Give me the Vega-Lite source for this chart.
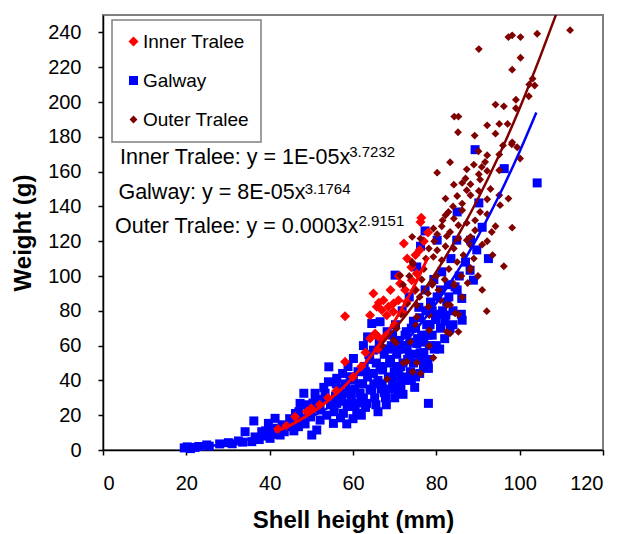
{
"$schema": "https://vega.github.io/schema/vega-lite/v6.json",
"width": 500, "height": 435,
"autosize": {"type": "none"},
"padding": {"left": 103, "top": 15, "right": 19, "bottom": 84},
"background": "white",
"config": {
 "font": "Liberation Sans",
 "view": {"stroke": "#808080", "strokeWidth": 2},
 "axis": {"grid": false, "domainColor": "black", "domainWidth": 1.5, "tickColor": "black", "tickWidth": 1.5, "tickSize": 5, "labelFont": "Liberation Sans", "labelFontSize": 20, "labelColor": "black", "labelOverlap": false, "titleFont": "Liberation Sans", "titleFontSize": 24, "titleFontWeight": "bold", "titleColor": "black"},
 "legend": {"orient": "none", "legendX": 9, "legendY": 5, "strokeColor": "#808080", "strokeWidth": 1.5, "fillColor": "white", "padding": 12, "labelFont": "Liberation Sans", "labelFontSize": 19, "labelColor": "black", "rowPadding": 19, "symbolOffset": 0, "labelOffset": 0}
},
"datasets": {
 "pts": [
{"s":"Galway","x":19.5,"y":1.2},{"s":"Galway","x":20.2,"y":1.8},{"s":"Galway","x":21,"y":0.8},{"s":"Galway","x":22.1,"y":1.5},{"s":"Galway","x":23,"y":2},{"s":"Galway","x":24.9,"y":2.9},{"s":"Galway","x":25.5,"y":2.2},{"s":"Galway","x":28,"y":3.5},{"s":"Galway","x":30.1,"y":4.2},{"s":"Galway","x":31,"y":3.6},{"s":"Galway","x":32.5,"y":5.2},{"s":"Galway","x":33.5,"y":4.5},{"s":"Galway","x":34.1,"y":10.5},{"s":"Galway","x":35.7,"y":4.8},{"s":"Galway","x":36.2,"y":16.7},{"s":"Galway","x":36.5,"y":7.5},{"s":"Galway","x":37.5,"y":6},{"s":"Galway","x":38.1,"y":10.5},{"s":"Galway","x":38.8,"y":8},{"s":"Galway","x":39,"y":11},{"s":"Galway","x":39.7,"y":15.3},{"s":"Galway","x":40.1,"y":6.7},{"s":"Galway","x":40.5,"y":11},{"s":"Galway","x":41,"y":9},{"s":"Galway","x":41.3,"y":18.2},{"s":"Galway","x":41.8,"y":12.5},{"s":"Galway","x":42.5,"y":8.6},{"s":"Galway","x":43,"y":14.5},{"s":"Galway","x":43,"y":12},{"s":"Galway","x":43.5,"y":10.5},{"s":"Galway","x":44.1,"y":13.4},{"s":"Galway","x":44.8,"y":18},{"s":"Galway","x":45,"y":14},{"s":"Galway","x":45.3,"y":16.3},{"s":"Galway","x":45.8,"y":11},{"s":"Galway","x":46.2,"y":21},{"s":"Galway","x":46.9,"y":13.4},{"s":"Galway","x":47,"y":22},{"s":"Galway","x":47.3,"y":26.8},{"s":"Galway","x":47.5,"y":18},{"s":"Galway","x":48.2,"y":32.6},{"s":"Galway","x":48.5,"y":15},{"s":"Galway","x":49,"y":26},{"s":"Galway","x":49.3,"y":22},{"s":"Galway","x":49.8,"y":19},{"s":"Galway","x":50.1,"y":8.6},{"s":"Galway","x":50.4,"y":27},{"s":"Galway","x":50.9,"y":32.6},{"s":"Galway","x":51,"y":28},{"s":"Galway","x":51.3,"y":11.5},{"s":"Galway","x":51.6,"y":24},{"s":"Galway","x":52.1,"y":17.2},{"s":"Galway","x":52.1,"y":23},{"s":"Galway","x":52.6,"y":29},{"s":"Galway","x":53,"y":36},{"s":"Galway","x":53.3,"y":32.6},{"s":"Galway","x":53.7,"y":20},{"s":"Galway","x":54.1,"y":39.2},{"s":"Galway","x":54.2,"y":47.8},{"s":"Galway","x":54.6,"y":26},{"s":"Galway","x":55.3,"y":15.3},{"s":"Galway","x":55.5,"y":22},{"s":"Galway","x":55.8,"y":31},{"s":"Galway","x":56,"y":38},{"s":"Galway","x":56.1,"y":26.8},{"s":"Galway","x":56.1,"y":41.2},{"s":"Galway","x":56.5,"y":35},{"s":"Galway","x":57,"y":18.5},{"s":"Galway","x":57.3,"y":28},{"s":"Galway","x":57.5,"y":44},{"s":"Galway","x":57.7,"y":21.1},{"s":"Galway","x":57.7,"y":32.6},{"s":"Galway","x":58.2,"y":38},{"s":"Galway","x":58.5,"y":15},{"s":"Galway","x":58.6,"y":25},{"s":"Galway","x":58.8,"y":48},{"s":"Galway","x":59,"y":34},{"s":"Galway","x":59.3,"y":26.8},{"s":"Galway","x":59.3,"y":42.1},{"s":"Galway","x":59.6,"y":31},{"s":"Galway","x":60,"y":18},{"s":"Galway","x":60.1,"y":40.2},{"s":"Galway","x":60.1,"y":52.6},{"s":"Galway","x":60.4,"y":35},{"s":"Galway","x":60.5,"y":25},{"s":"Galway","x":60.9,"y":21.1},{"s":"Galway","x":61,"y":27},{"s":"Galway","x":61.2,"y":45},{"s":"Galway","x":61.5,"y":38},{"s":"Galway","x":61.7,"y":32.6},{"s":"Galway","x":62,"y":28},{"s":"Galway","x":62,"y":20},{"s":"Galway","x":62.3,"y":38},{"s":"Galway","x":62.5,"y":60},{"s":"Galway","x":62.5,"y":30},{"s":"Galway","x":62.7,"y":48},{"s":"Galway","x":63,"y":24.5},{"s":"Galway","x":63,"y":45},{"s":"Galway","x":63.3,"y":26.8},{"s":"Galway","x":63.5,"y":42},{"s":"Galway","x":63.5,"y":65},{"s":"Galway","x":63.8,"y":55},{"s":"Galway","x":64,"y":52},{"s":"Galway","x":64.1,"y":35},{"s":"Galway","x":64.5,"y":34.4},{"s":"Galway","x":64.5,"y":72.7},{"s":"Galway","x":64.9,"y":44},{"s":"Galway","x":64.9,"y":57.4},{"s":"Galway","x":65,"y":38},{"s":"Galway","x":65.2,"y":30},{"s":"Galway","x":65.5,"y":26},{"s":"Galway","x":65.6,"y":50},{"s":"Galway","x":66,"y":40},{"s":"Galway","x":66,"y":22},{"s":"Galway","x":66.3,"y":62},{"s":"Galway","x":66.5,"y":73.7},{"s":"Galway","x":66.5,"y":48},{"s":"Galway","x":66.8,"y":35},{"s":"Galway","x":67,"y":38},{"s":"Galway","x":67,"y":58},{"s":"Galway","x":67.1,"y":46},{"s":"Galway","x":67.5,"y":55},{"s":"Galway","x":67.5,"y":33},{"s":"Galway","x":67.8,"y":30},{"s":"Galway","x":68,"y":26},{"s":"Galway","x":68.2,"y":68},{"s":"Galway","x":68.5,"y":42},{"s":"Galway","x":68.5,"y":58},{"s":"Galway","x":68.8,"y":50},{"s":"Galway","x":69,"y":52},{"s":"Galway","x":69,"y":35},{"s":"Galway","x":69.2,"y":60},{"s":"Galway","x":69.5,"y":38},{"s":"Galway","x":69.5,"y":66},{"s":"Galway","x":69.9,"y":45},{"s":"Galway","x":70,"y":30},{"s":"Galway","x":70,"y":40},{"s":"Galway","x":70.1,"y":100.5},{"s":"Galway","x":70.2,"y":72},{"s":"Galway","x":70.5,"y":55},{"s":"Galway","x":70.5,"y":48},{"s":"Galway","x":70.8,"y":33},{"s":"Galway","x":71,"y":44},{"s":"Galway","x":71,"y":58},{"s":"Galway","x":71.1,"y":63},{"s":"Galway","x":71.5,"y":48},{"s":"Galway","x":71.5,"y":36},{"s":"Galway","x":71.8,"y":80},{"s":"Galway","x":72,"y":32},{"s":"Galway","x":72,"y":50},{"s":"Galway","x":72.1,"y":40},{"s":"Galway","x":72.4,"y":58},{"s":"Galway","x":72.5,"y":66},{"s":"Galway","x":72.8,"y":68},{"s":"Galway","x":73,"y":60},{"s":"Galway","x":73,"y":42},{"s":"Galway","x":73.1,"y":52},{"s":"Galway","x":73.5,"y":88},{"s":"Galway","x":73.5,"y":55},{"s":"Galway","x":73.8,"y":45},{"s":"Galway","x":74,"y":40},{"s":"Galway","x":74,"y":70},{"s":"Galway","x":74.1,"y":62},{"s":"Galway","x":74.5,"y":74},{"s":"Galway","x":74.5,"y":50},{"s":"Galway","x":74.8,"y":36},{"s":"Galway","x":75,"y":70},{"s":"Galway","x":75,"y":42},{"s":"Galway","x":75.1,"y":55},{"s":"Galway","x":75.3,"y":61.2},{"s":"Galway","x":75.3,"y":105.2},{"s":"Galway","x":75.5,"y":64},{"s":"Galway","x":75.8,"y":82},{"s":"Galway","x":76,"y":44},{"s":"Galway","x":76,"y":76},{"s":"Galway","x":76.1,"y":55.9},{"s":"Galway","x":76.2,"y":117.1},{"s":"Galway","x":76.5,"y":66},{"s":"Galway","x":76.5,"y":52},{"s":"Galway","x":76.9,"y":48},{"s":"Galway","x":77,"y":62},{"s":"Galway","x":77,"y":56},{"s":"Galway","x":77.3,"y":125.9},{"s":"Galway","x":77.3,"y":92},{"s":"Galway","x":77.5,"y":80},{"s":"Galway","x":77.7,"y":72},{"s":"Galway","x":78,"y":52},{"s":"Galway","x":78,"y":66},{"s":"Galway","x":78.1,"y":26.8},{"s":"Galway","x":78.1,"y":46.9},{"s":"Galway","x":78.3,"y":60},{"s":"Galway","x":78.5,"y":72},{"s":"Galway","x":78.6,"y":85},{"s":"Galway","x":79,"y":66},{"s":"Galway","x":79,"y":80},{"s":"Galway","x":79.4,"y":98},{"s":"Galway","x":79.5,"y":58},{"s":"Galway","x":79.8,"y":75},{"s":"Galway","x":80,"y":60},{"s":"Galway","x":80.2,"y":120.6},{"s":"Galway","x":80.2,"y":88},{"s":"Galway","x":80.5,"y":78},{"s":"Galway","x":80.8,"y":58},{"s":"Galway","x":81,"y":70},{"s":"Galway","x":81,"y":92},{"s":"Galway","x":81.3,"y":102.4},{"s":"Galway","x":81.5,"y":80},{"s":"Galway","x":82,"y":64},{"s":"Galway","x":82,"y":74},{"s":"Galway","x":82.3,"y":77.5},{"s":"Galway","x":82.5,"y":85.1},{"s":"Galway","x":82.9,"y":95},{"s":"Galway","x":83,"y":88},{"s":"Galway","x":83.3,"y":69.9},{"s":"Galway","x":83.5,"y":110},{"s":"Galway","x":84,"y":72},{"s":"Galway","x":84,"y":80},{"s":"Galway","x":84.5,"y":93.8},{"s":"Galway","x":84.9,"y":120.6},{"s":"Galway","x":85,"y":136.8},{"s":"Galway","x":85,"y":92},{"s":"Galway","x":85.5,"y":100},{"s":"Galway","x":86,"y":78},{"s":"Galway","x":86.1,"y":87.1},{"s":"Galway","x":86.2,"y":74.6},{"s":"Galway","x":87,"y":108},{"s":"Galway","x":88.1,"y":103.3},{"s":"Galway","x":88.2,"y":120.6},{"s":"Galway","x":88.9,"y":97.6},{"s":"Galway","x":89.3,"y":172.6},{"s":"Galway","x":89.7,"y":115},{"s":"Galway","x":90.2,"y":142},{"s":"Galway","x":91,"y":128},{"s":"Galway","x":92.5,"y":110},{"s":"Galway","x":96.3,"y":161.7},{"s":"Galway","x":104.2,"y":153.5},
{"s":"Inner Tralee","x":42,"y":12},{"s":"Inner Tralee","x":44,"y":14},{"s":"Inner Tralee","x":46.1,"y":19.1},{"s":"Inner Tralee","x":48.9,"y":22},{"s":"Inner Tralee","x":50,"y":24},{"s":"Inner Tralee","x":52,"y":26},{"s":"Inner Tralee","x":54,"y":30},{"s":"Inner Tralee","x":56,"y":34},{"s":"Inner Tralee","x":58.1,"y":50.7},{"s":"Inner Tralee","x":58.1,"y":76.9},{"s":"Inner Tralee","x":60,"y":42},{"s":"Inner Tralee","x":62,"y":48},{"s":"Inner Tralee","x":63,"y":56},{"s":"Inner Tralee","x":64.1,"y":64.1},{"s":"Inner Tralee","x":64.1,"y":77.5},{"s":"Inner Tralee","x":64.9,"y":90},{"s":"Inner Tralee","x":65.3,"y":67},{"s":"Inner Tralee","x":65.7,"y":82.3},{"s":"Inner Tralee","x":66,"y":58},{"s":"Inner Tralee","x":66.1,"y":65},{"s":"Inner Tralee","x":66.2,"y":84.6},{"s":"Inner Tralee","x":66.9,"y":80.4},{"s":"Inner Tralee","x":67.3,"y":86.1},{"s":"Inner Tralee","x":68,"y":66},{"s":"Inner Tralee","x":68.1,"y":77.5},{"s":"Inner Tralee","x":68.5,"y":82.3},{"s":"Inner Tralee","x":69,"y":92},{"s":"Inner Tralee","x":69.7,"y":79.4},{"s":"Inner Tralee","x":69.7,"y":84.2},{"s":"Inner Tralee","x":70,"y":72},{"s":"Inner Tralee","x":70.9,"y":86.1},{"s":"Inner Tralee","x":71,"y":100},{"s":"Inner Tralee","x":71.3,"y":95.7},{"s":"Inner Tralee","x":72.1,"y":78.5},{"s":"Inner Tralee","x":72.2,"y":118.7},{"s":"Inner Tralee","x":72.5,"y":91.9},{"s":"Inner Tralee","x":72.9,"y":85.2},{"s":"Inner Tralee","x":73,"y":110},{"s":"Inner Tralee","x":74,"y":105},{"s":"Inner Tralee","x":74.1,"y":97.6},{"s":"Inner Tralee","x":74.9,"y":91.9},{"s":"Inner Tralee","x":75,"y":112},{"s":"Inner Tralee","x":75.3,"y":101.4},{"s":"Inner Tralee","x":76,"y":115},{"s":"Inner Tralee","x":76.2,"y":131},{"s":"Inner Tralee","x":76.4,"y":133.5},{"s":"Inner Tralee","x":77,"y":120},{"s":"Inner Tralee","x":78,"y":125},
{"s":"Outer Tralee","x":112.1,"y":241.3},{"s":"Outer Tralee","x":104.2,"y":239.2},{"s":"Outer Tralee","x":100.2,"y":237.3},{"s":"Outer Tralee","x":98.2,"y":238.3},{"s":"Outer Tralee","x":97.3,"y":237.3},{"s":"Outer Tralee","x":90.2,"y":230.4},{"s":"Outer Tralee","x":100.2,"y":225.4},{"s":"Outer Tralee","x":98.2,"y":218.6},{"s":"Outer Tralee","x":103.1,"y":213.4},{"s":"Outer Tralee","x":102.3,"y":210.1},{"s":"Outer Tralee","x":103.6,"y":209.5},{"s":"Outer Tralee","x":102.2,"y":203.3},{"s":"Outer Tralee","x":99.1,"y":201.3},{"s":"Outer Tralee","x":94.2,"y":198.5},{"s":"Outer Tralee","x":96.2,"y":197.5},{"s":"Outer Tralee","x":99.1,"y":196.4},{"s":"Outer Tralee","x":84.3,"y":191.6},{"s":"Outer Tralee","x":85.3,"y":191.6},{"s":"Outer Tralee","x":92.2,"y":186.6},{"s":"Outer Tralee","x":95.1,"y":187.4},{"s":"Outer Tralee","x":97.1,"y":187.4},{"s":"Outer Tralee","x":85.2,"y":182.6},{"s":"Outer Tralee","x":89.2,"y":180.7},{"s":"Outer Tralee","x":94.2,"y":181.8},{"s":"Outer Tralee","x":98.2,"y":176.8},{"s":"Outer Tralee","x":90.1,"y":171.7},{"s":"Outer Tralee","x":92.2,"y":169.4},{"s":"Outer Tralee","x":95.1,"y":169.8},{"s":"Outer Tralee","x":98.1,"y":175.7},{"s":"Outer Tralee","x":100.1,"y":167.5},{"s":"Outer Tralee","x":83.3,"y":165.4},{"s":"Outer Tralee","x":91.7,"y":165.5},{"s":"Outer Tralee","x":90.9,"y":162.7},{"s":"Outer Tralee","x":92.2,"y":160.4},{"s":"Outer Tralee","x":80.2,"y":159.4},{"s":"Outer Tralee","x":87.3,"y":161.3},{"s":"Outer Tralee","x":90.2,"y":158.5},{"s":"Outer Tralee","x":95.1,"y":160.8},{"s":"Outer Tralee","x":90.5,"y":155.4},{"s":"Outer Tralee","x":86.2,"y":153.5},{"s":"Outer Tralee","x":84.2,"y":152.5},{"s":"Outer Tralee","x":88.2,"y":152.7},{"s":"Outer Tralee","x":87.3,"y":149.3},{"s":"Outer Tralee","x":90.2,"y":148.9},{"s":"Outer Tralee","x":88.2,"y":146.4},{"s":"Outer Tralee","x":82.2,"y":144.5},{"s":"Outer Tralee","x":92.2,"y":144.1},{"s":"Outer Tralee","x":95.1,"y":146.4},{"s":"Outer Tralee","x":97.3,"y":144.5},{"s":"Outer Tralee","x":86.2,"y":141.6},{"s":"Outer Tralee","x":95.3,"y":140.7},{"s":"Outer Tralee","x":90.5,"y":136.8},{"s":"Outer Tralee","x":86.2,"y":137.8},{"s":"Outer Tralee","x":82.9,"y":136.8},{"s":"Outer Tralee","x":82.2,"y":134.9},{"s":"Outer Tralee","x":84.2,"y":133},{"s":"Outer Tralee","x":85.3,"y":129.2},{"s":"Outer Tralee","x":87.3,"y":130.5},{"s":"Outer Tralee","x":89.3,"y":132},{"s":"Outer Tralee","x":92.2,"y":135.5},{"s":"Outer Tralee","x":94.2,"y":128.6},{"s":"Outer Tralee","x":98.2,"y":127.8},{"s":"Outer Tralee","x":79.3,"y":127.3},{"s":"Outer Tralee","x":81.3,"y":128.6},{"s":"Outer Tralee","x":83.3,"y":125.3},{"s":"Outer Tralee","x":80.2,"y":124},{"s":"Outer Tralee","x":82.5,"y":122.9},{"s":"Outer Tralee","x":85.3,"y":121.5},{"s":"Outer Tralee","x":88.2,"y":122.5},{"s":"Outer Tralee","x":89.3,"y":126.3},{"s":"Outer Tralee","x":93.3,"y":125.3},{"s":"Outer Tralee","x":92.2,"y":120},{"s":"Outer Tralee","x":74.2,"y":122.5},{"s":"Outer Tralee","x":76.2,"y":121.5},{"s":"Outer Tralee","x":78.2,"y":115.8},{"s":"Outer Tralee","x":80.2,"y":114.8},{"s":"Outer Tralee","x":82.2,"y":117.1},{"s":"Outer Tralee","x":84.2,"y":115.8},{"s":"Outer Tralee","x":87.3,"y":120.6},{"s":"Outer Tralee","x":88.2,"y":117.7},{"s":"Outer Tralee","x":74.2,"y":108.1},{"s":"Outer Tralee","x":79.3,"y":111},{"s":"Outer Tralee","x":81.3,"y":109.1},{"s":"Outer Tralee","x":88.2,"y":104.7},{"s":"Outer Tralee","x":96.2,"y":105.6},{"s":"Outer Tralee","x":75.3,"y":83.3},{"s":"Outer Tralee","x":78.1,"y":82.3},{"s":"Outer Tralee","x":75.3,"y":76.5},{"s":"Outer Tralee","x":75.1,"y":71.8},{"s":"Outer Tralee","x":78.3,"y":77.5},{"s":"Outer Tralee","x":82.5,"y":83.3},{"s":"Outer Tralee","x":83.3,"y":83.3},{"s":"Outer Tralee","x":84.5,"y":78.5},{"s":"Outer Tralee","x":85.3,"y":78},{"s":"Outer Tralee","x":92.1,"y":79.8},{"s":"Outer Tralee","x":78.3,"y":68.9},{"s":"Outer Tralee","x":82.5,"y":67.9},{"s":"Outer Tralee","x":83.3,"y":67},{"s":"Outer Tralee","x":85.3,"y":67.9},{"s":"Outer Tralee","x":73.7,"y":62.2},{"s":"Outer Tralee","x":70.3,"y":61.6},{"s":"Outer Tralee","x":78.3,"y":59.9},{"s":"Outer Tralee","x":79.3,"y":53},{"s":"Outer Tralee","x":75.3,"y":50.1},{"s":"Outer Tralee","x":72.1,"y":50.1},{"s":"Outer Tralee","x":72.9,"y":50.7},{"s":"Outer Tralee","x":74.3,"y":45},{"s":"Outer Tralee","x":76.2,"y":44},{"s":"Outer Tralee","x":68.2,"y":40.8},{"s":"Outer Tralee","x":72,"y":95},{"s":"Outer Tralee","x":73.5,"y":100},{"s":"Outer Tralee","x":75,"y":92},{"s":"Outer Tralee","x":76.5,"y":98},{"s":"Outer Tralee","x":77,"y":104},{"s":"Outer Tralee","x":78,"y":90},{"s":"Outer Tralee","x":79,"y":95},{"s":"Outer Tralee","x":80,"y":100},{"s":"Outer Tralee","x":80.5,"y":92},{"s":"Outer Tralee","x":81,"y":86},{"s":"Outer Tralee","x":82,"y":98},{"s":"Outer Tralee","x":83,"y":104},{"s":"Outer Tralee","x":84,"y":96},{"s":"Outer Tralee","x":85,"y":108},{"s":"Outer Tralee","x":86,"y":100},{"s":"Outer Tralee","x":86.5,"y":112},{"s":"Outer Tralee","x":87.5,"y":96},{"s":"Outer Tralee","x":89,"y":110},{"s":"Outer Tralee","x":90,"y":100},{"s":"Outer Tralee","x":91,"y":92},{"s":"Outer Tralee","x":76,"y":88},{"s":"Outer Tralee","x":77.5,"y":110},{"s":"Outer Tralee","x":79.5,"y":120},{"s":"Outer Tralee","x":81.5,"y":132},{"s":"Outer Tralee","x":84,"y":140},{"s":"Outer Tralee","x":85,"y":146},{"s":"Outer Tralee","x":87,"y":156},{"s":"Outer Tralee","x":89,"y":164},{"s":"Outer Tralee","x":93,"y":150},{"s":"Outer Tralee","x":96,"y":175},{"s":"Outer Tralee","x":91,"y":118},{"s":"Outer Tralee","x":93.5,"y":112},{"s":"Outer Tralee","x":70.5,"y":70},{"s":"Outer Tralee","x":71.5,"y":78},{"s":"Outer Tralee","x":73,"y":84},{"s":"Outer Tralee","x":67,"y":60},{"s":"Outer Tralee","x":71.3,"y":100.5},{"s":"Outer Tralee","x":74.4,"y":107},{"s":"Outer Tralee","x":79.2,"y":95.7},{"s":"Outer Tralee","x":84.3,"y":94.7},{"s":"Outer Tralee","x":88.1,"y":103.3},{"s":"Outer Tralee","x":69.7,"y":63.2},{"s":"Outer Tralee","x":86.2,"y":87.8},{"s":"Outer Tralee","x":99.4,"y":174}
 ],
 "fits": [
{"s":"Galway","x":19,"y":0.88},{"s":"Galway","x":25,"y":2.1},{"s":"Galway","x":30,"y":3.74},{"s":"Galway","x":35,"y":6.1},{"s":"Galway","x":40,"y":9.3},{"s":"Galway","x":45,"y":13.6},{"s":"Galway","x":50,"y":19},{"s":"Galway","x":55,"y":25.7},{"s":"Galway","x":60,"y":33.9},{"s":"Galway","x":65,"y":43.7},{"s":"Galway","x":70,"y":55.3},{"s":"Galway","x":75,"y":68.8},{"s":"Galway","x":80,"y":84.5},{"s":"Galway","x":85,"y":102.4},{"s":"Galway","x":90,"y":122.8},{"s":"Galway","x":95,"y":145.8},{"s":"Galway","x":100,"y":171.6},{"s":"Galway","x":104,"y":194},
{"s":"Inner Tralee","x":41.3,"y":10.4},{"s":"Inner Tralee","x":45,"y":14.3},{"s":"Inner Tralee","x":50,"y":21.2},{"s":"Inner Tralee","x":55,"y":30.2},{"s":"Inner Tralee","x":60,"y":41.7},{"s":"Inner Tralee","x":65,"y":56.2},{"s":"Inner Tralee","x":70,"y":74.1},{"s":"Inner Tralee","x":75,"y":95.8},{"s":"Inner Tralee","x":78,"y":110.8},
{"s":"Outer Tralee","x":67,"y":61.1},{"s":"Outer Tralee","x":70,"y":69.5},{"s":"Outer Tralee","x":75,"y":84.9},{"s":"Outer Tralee","x":80,"y":102.5},{"s":"Outer Tralee","x":85,"y":122.3},{"s":"Outer Tralee","x":90,"y":144.4},{"s":"Outer Tralee","x":95,"y":169.1},{"s":"Outer Tralee","x":100,"y":196.4},{"s":"Outer Tralee","x":105,"y":226.5},{"s":"Outer Tralee","x":109,"y":252}
 ],
 "eq": [
{"t":"Inner Tralee: y = 1E-05x","x":4.1,"y":167.6},
{"t":"Galway: y = 8E-05x","x":3.7,"y":147.7},
{"t":"Outer Tralee: y = 0.0003x","x":2.9,"y":128.2}
 ],
 "ex": [
{"t":"3.7232","x":59.1,"y":171.1},
{"t":"3.1764","x":48.4,"y":150.2},
{"t":"2.9151","x":61.3,"y":131.7}
 ]
},
"encoding": {
 "x": {"field": "x", "type": "quantitative", "scale": {"domain": [0, 120], "nice": false, "zero": false}, "axis": {"values": [0,20,40,60,80,100,120], "labelOverlap": false, "title": "Shell height (mm)", "labelPadding": 18, "titlePadding": 15}},
 "y": {"field": "y", "type": "quantitative", "scale": {"domain": [0, 250], "nice": false}, "axis": {"values": [0,20,40,60,80,100,120,140,160,180,200,220,240], "labelOverlap": false, "title": "Weight (g)", "labelPadding": 17, "titlePadding": 12}}
},
"layer": [
 {"data": {"name": "pts"},
  "mark": {"type": "point", "filled": true, "opacity": 1, "strokeWidth": 0},
  "encoding": {
   "color": {"field": "s", "type": "nominal", "scale": {"domain": ["Inner Tralee", "Galway", "Outer Tralee"], "range": ["#FF0000", "#0000FF", "#800000"]}, "legend": {"title": null}},
   "shape": {"field": "s", "type": "nominal", "scale": {"domain": ["Inner Tralee", "Galway", "Outer Tralee"], "range": ["diamond", "square", "diamond"]}, "legend": {"title": null}},
   "size": {"field": "s", "type": "nominal", "scale": {"domain": ["Inner Tralee", "Galway", "Outer Tralee"], "range": [100, 62, 56]}, "legend": {"title": null}}
  }
 },
 {"data": {"name": "fits"}, "transform": [{"filter": "datum.s === 'Galway'"}],
  "mark": {"type": "line", "color": "#0000FF", "strokeWidth": 2.5, "interpolate": "monotone", "clip": true},
  "encoding": {}},
 {"data": {"name": "fits"}, "transform": [{"filter": "datum.s === 'Inner Tralee'"}],
  "mark": {"type": "line", "color": "#FF0000", "strokeWidth": 3, "interpolate": "monotone", "clip": true},
  "encoding": {}},
 {"data": {"name": "fits"}, "transform": [{"filter": "datum.s === 'Outer Tralee'"}],
  "mark": {"type": "line", "color": "#800000", "strokeWidth": 2.5, "interpolate": "monotone", "clip": true},
  "encoding": {}},
 {"data": {"name": "eq"},
  "mark": {"type": "text", "align": "left", "baseline": "middle", "fontSize": 21.5, "font": "Liberation Sans", "color": "black"},
  "encoding": {"text": {"field": "t"}}},
 {"data": {"name": "ex"},
  "mark": {"type": "text", "align": "left", "baseline": "middle", "fontSize": 15, "font": "Liberation Sans", "color": "black"},
  "encoding": {"text": {"field": "t"}}}
]
}
